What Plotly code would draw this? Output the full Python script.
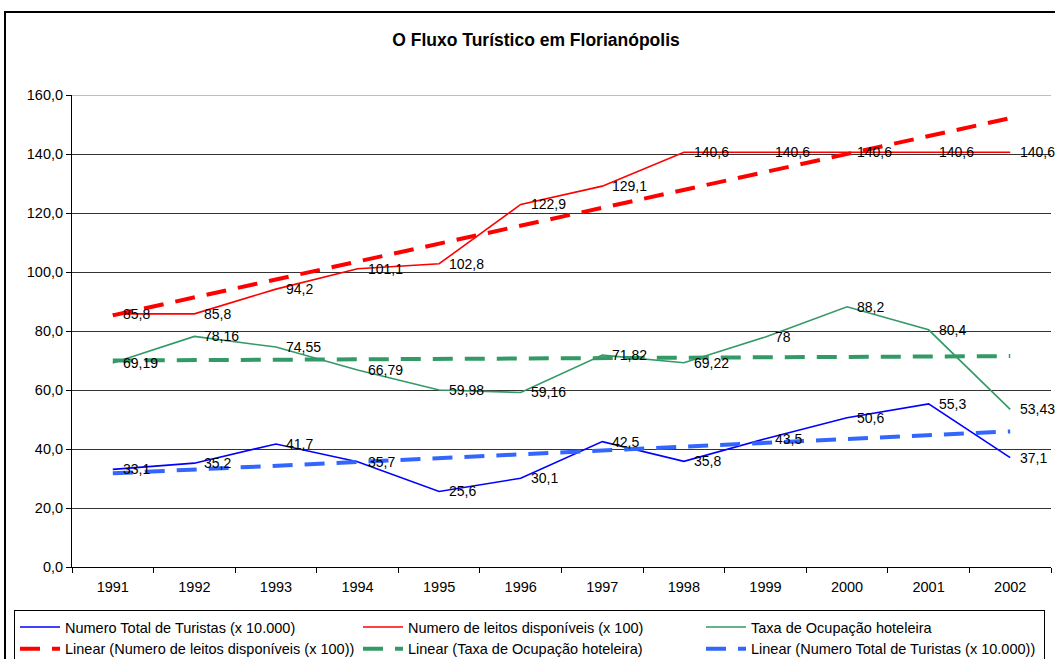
import numpy as np
import plotly.graph_objects as go

years = ["1991", "1992", "1993", "1994", "1995", "1996", "1997", "1998", "1999", "2000", "2001", "2002"]
turistas = [33.1, 35.2, 41.7, 35.7, 25.6, 30.1, 42.5, 35.8, 43.5, 50.6, 55.3, 37.1]
leitos = [85.8, 85.8, 94.2, 101.1, 102.8, 122.9, 129.1, 140.6, 140.6, 140.6, 140.6, 140.6]
taxa = [69.19, 78.16, 74.55, 66.79, 59.98, 59.16, 71.82, 69.22, 78, 88.2, 80.4, 53.43]

name_tur = "Numero Total de Turistas (x 10.000)"
name_lei = "Numero de leitos disponíveis (x 100)"
name_tax = "Taxa de Ocupação hoteleira"
title = "O Fluxo Turístico em Florianópolis"

FONT = "Arial, Liberation Sans, sans-serif"
W, H = 1055, 659
L, R, T, B = 72, 4, 95, 92
pw, ph = W - L - R, H - T - B


def px_x(p):
    return (p - L) / pw


def px_y(p):
    return (H - B - p) / ph


def trend(vals):
    x = np.arange(len(vals))
    k, b = np.polyfit(x, vals, 1)
    return list(k * x + b)


def fmt(v):
    return f"{v:g}".replace(".", ",")


fig = go.Figure()
series = [
    (turistas, name_tur, "#0000FF", 1),
    (leitos, name_lei, "#FF0000", 2),
    (taxa, name_tax, "#339966", 3),
]
for vals, nm, col, rank in series:
    fig.add_trace(go.Scatter(x=years, y=vals, mode="lines", name=nm,
                             line=dict(color=col, width=1.6), legendrank=rank))

trends = [
    (leitos, name_lei, "#FF0000", 4),
    (taxa, name_tax, "#339966", 5),
    (turistas, name_tur, "#3366FF", 6),
]
for vals, nm, col, rank in trends:
    fig.add_trace(go.Scatter(x=years, y=trend(vals), mode="lines", name=f"Linear ({nm})",
                             line=dict(color=col, width=4, dash="20px,12px"), legendrank=rank))

annotations = []
for vals, nm, col, rank in series:
    for i, v in enumerate(vals):
        annotations.append(dict(x=i, y=v, xref="x", yref="y", text=fmt(v), showarrow=False,
                                xanchor="left", yanchor="middle", xshift=8,
                                font=dict(family=FONT, size=14, color="black")))

shapes = [
    dict(type="line", xref="paper", yref="y", x0=0, x1=1, y0=160, y1=160,
         line=dict(color="#BFBFBF", width=2), layer="below"),
    dict(type="rect", xref="paper", yref="paper", x0=px_x(5), x1=px_x(1070), y0=px_y(12), y1=px_y(680),
         line=dict(color="black", width=2), fillcolor="rgba(0,0,0,0)"),
]

fig.update_layout(
    width=W, height=H,
    margin=dict(l=L, r=R, t=T, b=B, autoexpand=False),
    paper_bgcolor="white", plot_bgcolor="white",
    separators=",.",
    font=dict(family=FONT, size=14, color="black"),
    title=dict(text=f"<b>{title}</b>", x=536 / W, xanchor="center", xref="container",
               yref="container", y=1 - 40 / H, yanchor="middle", font=dict(size=17.5, family=FONT)),
    xaxis=dict(type="category", tickson="boundaries", ticks="outside", ticklen=5, tickcolor="black",
               showline=True, linecolor="black", linewidth=1, showgrid=False,
               tickfont=dict(size=14.5), range=[-0.5, 11.5], ticklabelstandoff=7),
    yaxis=dict(range=[0, 160], dtick=20, tickformat=".1f", ticks="outside", ticklen=5, tickcolor="black",
               showline=True, linecolor="black", linewidth=1, showgrid=True, gridcolor="#333333",
               gridwidth=1, zeroline=False, tickfont=dict(size=14.5)),
    legend=dict(orientation="h", x=px_x(14), y=px_y(610), xanchor="left", yanchor="top",
                bordercolor="black", borderwidth=1, font=dict(size=14.5), entrywidth=288,
                entrywidthmode="pixels", traceorder="normal", tracegroupgap=0, itemwidth=40),
    annotations=annotations,
    shapes=shapes,
    showlegend=True,
)

fig.write_html("out.html", config={"displayModeBar": False},
               post_script="document.body.style.margin='0';document.body.style.padding='0';")
